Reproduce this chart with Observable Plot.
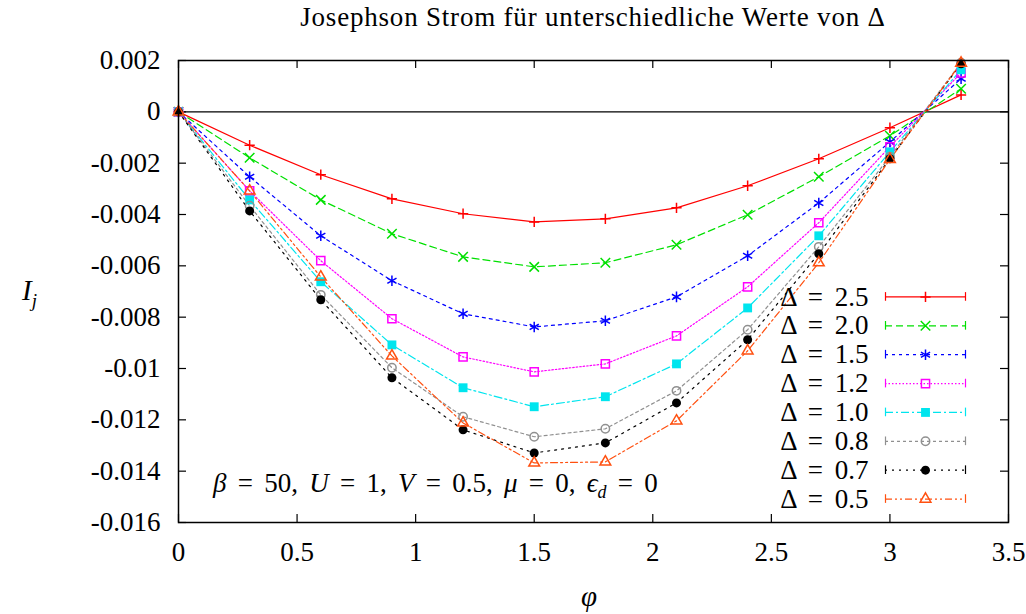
<!DOCTYPE html>
<html>
<head>
<meta charset="utf-8">
<script src="https://cdn.jsdelivr.net/npm/d3@7"></script>
<script src="https://cdn.jsdelivr.net/npm/@observablehq/plot@0.6"></script>
<style>
  html, body { margin: 0; padding: 0; background: white; }
  #wrap { position: relative; width: 1026px; height: 614px; font-family: "Liberation Serif", "Times New Roman", "DejaVu Serif", serif; color: black; }
  .abs { position: absolute; white-space: nowrap; line-height: 1; }
  #legend { position: absolute; left: 760px; top: 282px; }
  svg text { font-family: "Liberation Serif", "Times New Roman", "DejaVu Serif", serif; }
</style>
</head>
<body>
<div id="wrap">
  <div id="chart"></div>
  <div class="abs" id="title" style="left:178px;width:830px;top:4px;text-align:center;font-size:27px;letter-spacing:0.8px;">Josephson Strom für unterschiedliche Werte von Δ</div>
  <div class="abs" style="left:22px;top:276px;font-size:29px;"><i>I</i><sub style="font-size:19px;"><i>j</i></sub></div>
  <div class="abs" style="left:581px;top:582px;font-size:29px;"><i>φ</i></div>
  <div class="abs" style="left:213px;top:470px;font-size:27px;word-spacing:4.5px;"><i>β</i> = 50, <i>U</i> = 1, <i>V</i> = 0.5, <i>μ</i> = 0, <i>ϵ</i><sub style="font-size:18px;"><i>d</i></sub> = 0</div>
  <div id="legend"></div>
</div>
<script>
// ---- data ----
const phi = [0, 0.3, 0.6, 0.9, 1.2, 1.5, 1.8, 2.1, 2.4, 2.7, 3.0, 3.3];
const labels = ["Δ = 2.5", "Δ = 2.0", "Δ = 1.5", "Δ = 1.2", "Δ = 1.0", "Δ = 0.8", "Δ = 0.7", "Δ = 0.5"];
const d25 = [0, -0.00130, -0.00245, -0.00339, -0.00397, -0.00429, -0.00417, -0.00374, -0.00288, -0.00183, -0.00062, 0.00066];
const d20 = [0, -0.00179, -0.00343, -0.00475, -0.00565, -0.00604, -0.00588, -0.00518, -0.00401, -0.00253, -0.00093, 0.00090];
const d15 = [0, -0.00253, -0.00483, -0.00658, -0.00787, -0.00838, -0.00814, -0.00721, -0.00561, -0.00355, -0.00117, 0.00129];
const d12 = [0, -0.00308, -0.00580, -0.00806, -0.00955, -0.01013, -0.00982, -0.00873, -0.00682, -0.00432, -0.00136, 0.00152];
const d10 = [0, -0.00343, -0.00662, -0.00908, -0.01075, -0.01149, -0.01110, -0.00982, -0.00764, -0.00483, -0.00156, 0.00164];
const d08 = [0, -0.00366, -0.00713, -0.00997, -0.01188, -0.01266, -0.01235, -0.01087, -0.00849, -0.00526, -0.00175, 0.00191];
const d07 = [0, -0.00386, -0.00732, -0.01036, -0.01239, -0.01329, -0.01290, -0.01134, -0.00888, -0.00553, -0.00183, 0.00187];
const d05 = [0, -0.00308, -0.00643, -0.00951, -0.01212, -0.01368, -0.01364, -0.01204, -0.00931, -0.00588, -0.00185, 0.00190];
const xTicks = [0, 0.5, 1, 1.5, 2, 2.5, 3, 3.5];
const yTicks = [0.002, 0, -0.002, -0.004, -0.006, -0.008, -0.01, -0.012, -0.014, -0.016];

// ---- styles ----
const FONT = "'Liberation Serif', 'Times New Roman', 'DejaVu Serif', serif";
const seriesValues = [d25, d20, d15, d12, d10, d08, d07, d05];
const styles = [
  {color: "#ff0000", dash: null,            symbol: "plus",     r: 3.4, filled: false},
  {color: "#00e000", dash: "7,4",           symbol: "times",    r: 4.4, filled: false},
  {color: "#0000ff", dash: "3,4",           symbol: "asterisk", r: 5.0, filled: false},
  {color: "#ff00ff", dash: "1.5,2",         symbol: "square",   r: 4.6, filled: false},
  {color: "#00e5ee", dash: "8,3,2,3",       symbol: "square",   r: 5.0, filled: true},
  {color: "#909090", dash: "3,3",           symbol: "circle",   r: 4.2, filled: false},
  {color: "#000000", dash: "2,5",           symbol: "circle",   r: 4.5, filled: true},
  {color: "#ff5010", dash: "7,3,2,3,2,3",   symbol: "triangle", r: 4.0, filled: false}
];

const series = seriesValues.map((vals, i) =>
  phi.map((x, j) => ({phi: x, I: vals[j], key: labels[i]}))
);

const marks = [
  Plot.ruleY([0], {stroke: "black", strokeWidth: 1.2}),
  Plot.axisX(xTicks, {tickSize: 0, tickPadding: 19, fontSize: 27, label: null, tickFormat: d => String(d)}),
  Plot.axisY(yTicks, {tickSize: 0, tickPadding: 18, fontSize: 27, label: null, tickFormat: d => String(+d.toFixed(3))}),
  Plot.tickY(yTicks, {y: d => d, insetRight: 822, stroke: "black", strokeWidth: 1.2}),
  Plot.tickY(yTicks, {y: d => d, insetLeft: 822, stroke: "black", strokeWidth: 1.2}),
  Plot.tickX(xTicks, {x: d => d, insetTop: 454, stroke: "black", strokeWidth: 1.2}),
  Plot.tickX(xTicks, {x: d => d, insetBottom: 454, stroke: "black", strokeWidth: 1.2})
];
series.forEach((data, i) => {
  const s = styles[i];
  marks.push(Plot.line(data, {x: "phi", y: "I", stroke: s.color, strokeWidth: 1.2, strokeDasharray: s.dash}));
});
series.forEach((data, i) => {
  const s = styles[i];
  marks.push(Plot.dot(data, {x: "phi", y: "I", symbol: s.symbol, r: s.r,
    fill: s.filled ? s.color : "none", stroke: s.filled ? "none" : s.color, strokeWidth: 1.5}));
});
marks.push(Plot.frame({stroke: "black", strokeWidth: 1.5}));

const chart = Plot.plot({
  width: 1026, height: 614,
  marginLeft: 178, marginRight: 18, marginTop: 60, marginBottom: 92,
  style: {fontFamily: FONT, fontSize: "27px", background: "white", color: "black"},
  x: {domain: [0, 3.5], label: null},
  y: {domain: [-0.016, 0.002], label: null},
  marks
});
document.getElementById("chart").appendChild(chart);

// ---- legend ----
const legendRows = labels.map((label, i) => ({label, i}));
const lmarks = [
  Plot.text(legendRows, {x: 0, y: "i", text: "label", textAnchor: "end", dx: -17, fontSize: 27, fill: "black", fontFamily: FONT})
];
legendRows.forEach(({i}) => {
  const s = styles[i];
  const row = [{i}];
  lmarks.push(Plot.ruleY(row, {y: "i", x1: 0, x2: 1, stroke: s.color, strokeWidth: 1.2, strokeDasharray: s.dash}));
  lmarks.push(Plot.ruleX([0, 1], {x: d => d, y1: i - 0.15, y2: i + 0.15, stroke: s.color, strokeWidth: 1.2}));
  lmarks.push(Plot.dot(row, {x: 0.5, y: "i", symbol: s.symbol, r: s.r,
    fill: s.filled ? s.color : "none", stroke: s.filled ? "none" : s.color, strokeWidth: 1.5}));
});
const legend = Plot.plot({
  width: 220, height: 231,
  marginLeft: 125, marginRight: 15, marginTop: 0, marginBottom: 0,
  style: {fontFamily: FONT, background: "transparent"},
  x: {domain: [0, 1], axis: null},
  y: {domain: [-0.5, 7.5], reverse: true, axis: null},
  marks: lmarks
});
legend.querySelectorAll("text").forEach(t => t.setAttribute("style", "word-spacing:5px"));
document.getElementById("legend").appendChild(legend);
</script>
</body>
</html>
